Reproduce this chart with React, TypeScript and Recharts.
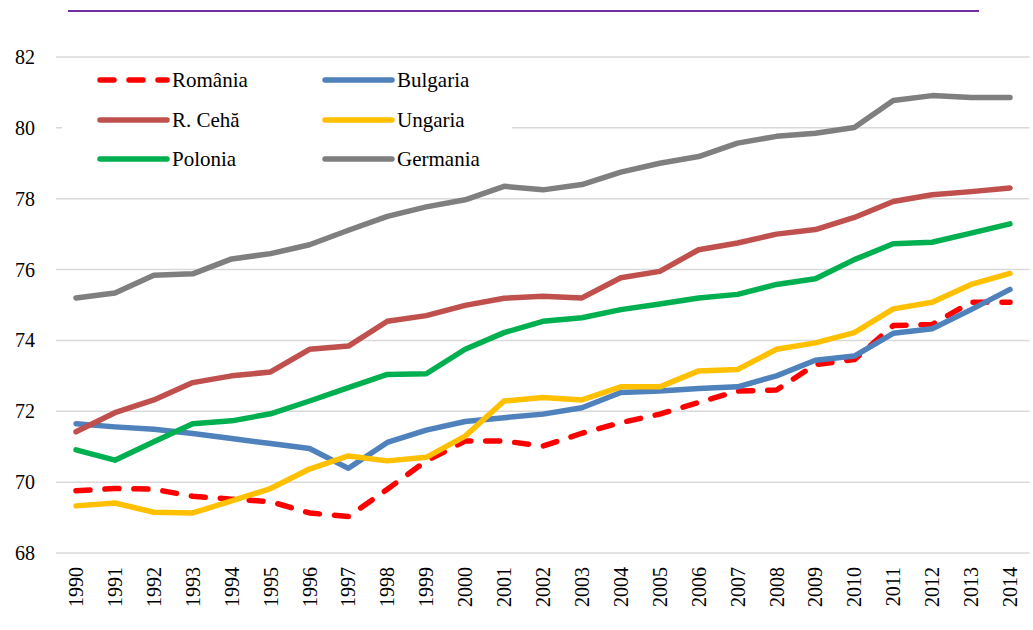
import React from 'react';
import { LineChart, Line, XAxis, YAxis, CartesianGrid, Legend } from 'recharts';

const years = ['1990','1991','1992','1993','1994','1995','1996','1997','1998','1999','2000','2001','2002','2003','2004','2005','2006','2007','2008','2009','2010','2011','2012','2013','2014'];

const romania = [69.76,69.82,69.80,69.60,69.52,69.45,69.13,69.03,69.80,70.60,71.16,71.16,71.02,71.38,71.68,71.92,72.25,72.57,72.60,73.32,73.46,74.42,74.45,75.08,75.08];
const bulgaria = [71.65,71.56,71.49,71.37,71.23,71.09,70.95,70.39,71.12,71.47,71.71,71.82,71.92,72.10,72.53,72.57,72.64,72.69,73.00,73.44,73.56,74.20,74.33,74.87,75.44];
const cehia = [71.42,71.96,72.32,72.81,73.00,73.11,73.75,73.84,74.54,74.70,74.99,75.19,75.25,75.20,75.77,75.95,76.56,76.75,77.00,77.13,77.47,77.92,78.11,78.20,78.30];
const ungaria = [69.33,69.41,69.15,69.13,69.47,69.82,70.37,70.74,70.60,70.70,71.30,72.29,72.39,72.32,72.69,72.69,73.14,73.18,73.75,73.93,74.22,74.89,75.08,75.58,75.89];
const polonia = [70.91,70.62,71.14,71.65,71.73,71.93,72.29,72.67,73.04,73.06,73.75,74.22,74.54,74.64,74.87,75.03,75.20,75.30,75.58,75.74,76.28,76.73,76.77,77.03,77.29];
const germania = [75.20,75.34,75.84,75.88,76.30,76.45,76.70,77.11,77.50,77.77,77.97,78.35,78.25,78.40,78.75,79.00,79.19,79.57,79.76,79.85,80.01,80.77,80.91,80.86,80.86];

const yTicks = [68, 70, 72, 74, 76, 78, 80, 82];

const seriesNames = ['România', 'Bulgaria', 'R. Cehă', 'Ungaria', 'Polonia', 'Germania'];
const seriesKeys = ['romania', 'bulgaria', 'cehia', 'ungaria', 'polonia', 'germania'];
const seriesColors = ['#ff0000', '#4f81bd', '#c0504d', '#ffc000', '#00b050', '#7f7f7f'];
const seriesValues = [romania, bulgaria, cehia, ungaria, polonia, germania];

const data = years.map((y, i) => {
  const row: Record<string, string | number> = { year: y };
  seriesKeys.forEach((k, s) => { row[k] = seriesValues[s][i]; });
  return row;
});

const FONT = 'Liberation Serif';
const DASH = '14 15';

const XTick = (props: any) => {
  const { x, y, payload } = props;
  return (
    <g transform={`translate(${x},${y + 6}) rotate(-90)`}>
      <text x={0} y={0} dy="0.35em" textAnchor="end" fill="#000" fontSize={20} fontFamily={FONT}>
        {payload.value}
      </text>
    </g>
  );
};

const YTick = (props: any) => {
  const { x, y, payload } = props;
  return (
    <text x={x} y={y} dy="0.35em" textAnchor="end" fill="#000" fontSize={20} fontFamily={FONT}>
      {payload.value}
    </text>
  );
};

const LegendContent = () => (
  <div style={{ position: 'relative', width: 450, height: 118, background: '#fff' }}>
    {seriesNames.map((name, i) => {
      const col = i % 2;
      const row = Math.floor(i / 2);
      const left = 38 + col * 225;
      const top = 19 + row * 39.5;
      return (
        <div key={name} style={{ position: 'absolute', left, top, height: 0 }}>
          <svg width={76} height={12} style={{ position: 'absolute', left: -4, top: -6 }}>
            <line x1={4} y1={6} x2={71} y2={6} stroke={seriesColors[i]} strokeWidth={5.5}
              strokeLinecap="round" strokeDasharray={i === 0 ? DASH : undefined} />
          </svg>
          <span style={{ position: 'absolute', left: 72, top: -13, fontFamily: FONT, fontSize: 21, lineHeight: '26px', color: '#000', whiteSpace: 'nowrap' }}>
            {name}
          </span>
        </div>
      );
    })}
  </div>
);

export default function App() {
  return (
    <div style={{ position: 'absolute', left: 0, top: 0, width: 1033, height: 630, background: '#fff' }}>
      <div style={{ position: 'absolute', left: 68, top: 10, width: 911, height: 2, background: '#7030a0' }} />
      <LineChart width={1033} height={630} data={data} margin={{ top: 57, right: 3.5, bottom: 0, left: 0 }}>
        <CartesianGrid horizontal vertical={false} stroke="#d9d9d9" strokeWidth={1.5} />
        <XAxis dataKey="year" axisLine={false} tickLine={false} height={77} interval={0}
          padding={{ left: 20, right: 19.5 }} tick={<XTick />} />
        <YAxis domain={[68, 82]} ticks={yTicks} axisLine={false} tickLine={false} width={56} tickMargin={15}
          tick={<YTick />} />
        <Legend layout="horizontal" verticalAlign="middle" align="center" content={<LegendContent />}
          wrapperStyle={{ left: 62, top: 61, width: 450, height: 118 }} />
        {seriesKeys.map((k, i) => (
          <Line key={k} dataKey={k} name={seriesNames[i]} type="linear" stroke={seriesColors[i]} strokeWidth={5.5}
            strokeLinecap="round" strokeLinejoin="round" strokeDasharray={i === 0 ? DASH : undefined}
            dot={false} activeDot={false} isAnimationActive={false} />
        ))}
      </LineChart>
    </div>
  );
}
